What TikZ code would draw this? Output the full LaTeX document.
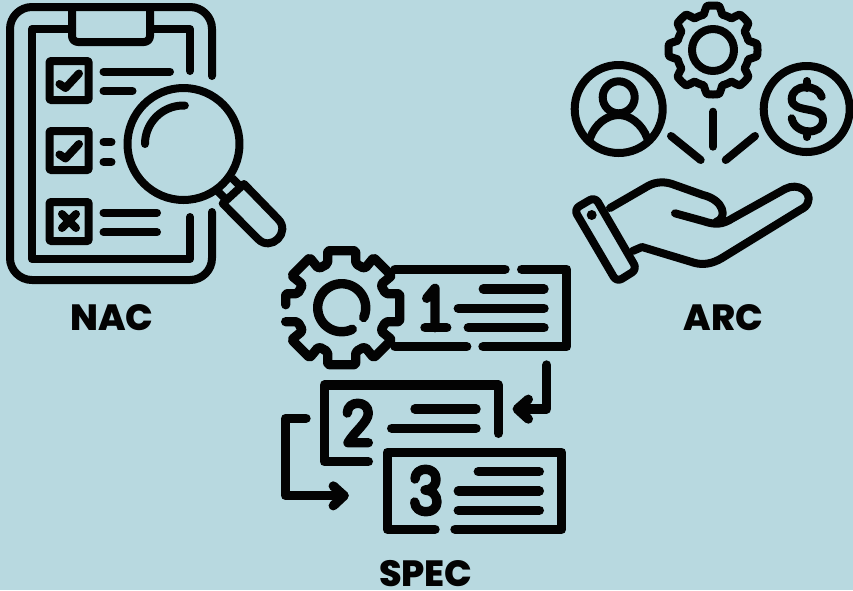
\documentclass[tikz,border=0pt]{standalone}
\usepackage{fontspec}
\setmainfont{Poppins}
\newfontfamily\labelfont{Poppins ExtraBold}
\definecolor{bgblue}{RGB}{184,217,224}
\definecolor{ink}{RGB}{3,3,3}
\tikzset{
  icon/.style={draw=ink,line width=8pt,line cap=round,line join=round},
  thick icon/.style={icon,line width=9.4pt},
  label text/.style={text=ink,font=\labelfont\fontsize{36.5}{36.5}\selectfont,inner sep=0pt,anchor=center}
}
\begin{document}
\begin{tikzpicture}[x=1pt,y=-1pt]
\useasboundingbox (0,0) rectangle (853,590);
\fill[bgblue] (0,0) rectangle (853,590);
% ---- clipboard ----
\draw[icon,rounded corners=22pt] (212,76) -- (212,7) -- (10,7) -- (10,280) -- (212,280) -- (212,212);
\draw[icon,rounded corners=6pt] (72,7) -- (72,42) -- (150,42) -- (150,7);
\draw[icon] (72,29) -- (32,29) -- (32,259) -- (190,259) -- (190,217);
\draw[icon] (150,29) -- (190,29) -- (190,71);
\draw[icon,rounded corners=1pt] (49.5,61) rectangle (88.7,100);
\draw[icon,rounded corners=1pt] (49.5,131) rectangle (88.7,170);
\draw[icon,rounded corners=1pt] (49.5,202) rectangle (88.7,241);
\draw[icon] (59.5,84) -- (65.5,88) -- (79,73.5);
\draw[icon] (59.5,154.5) -- (65.5,158.5) -- (79,144);
\draw[icon] (62,214) -- (76,228);
\draw[icon] (76,214) -- (62,228);
\draw[icon] (103.5,71.7) -- (170,71.7);
\draw[icon] (103.5,91) -- (132.5,91);
\draw[icon] (103.5,142) -- (111.5,142);
\draw[icon] (103.5,162) -- (111.5,162);
\draw[icon] (103.5,212.7) -- (157,212.7);
\draw[icon] (103.5,232.3) -- (157,232.3);
% magnifier
\draw[icon] (183.5,144) circle[radius=56];
\draw[icon] plot[domain=88:180,samples=40] ({183.5+38.5*cos(\x)},{144-38.5*sin(\x)});
\draw[icon,line cap=butt] (217.5,191) -- (225,198.5);
\draw[icon,line cap=butt] (232,178) -- (239.5,185.5);
\draw[icon] (222.7,203.5) -- (258,239) .. controls (271.2,252.2) and (291.2,232.2) .. (278,219) -- (244,184) -- cycle;
% ---- gear / list ----
\begin{scope}[shift={(341.7,307.7)}]
\draw[thick icon,rounded corners=2pt] (-56,-3) -- (-56,-14) -- (-44,-14) -- (-39,-23) -- (-50,-32) -- (-32,-50) -- (-23,-39) -- (-14,-44) -- (-14,-57) -- (14,-57) -- (14,-44) -- (23,-39) -- (32,-50) -- (50,-32) -- (39,-23) -- (44,-14) -- (58,-14) -- (58,14) -- (44,14) -- (39,23) -- (50,32) -- (32,50) -- (23,39) -- (14,44) -- (14,57) -- (-14,57) -- (-14,44) -- (-23,39) -- (-32,50) -- (-50,32) -- (-39,23) -- (-44,14) -- (-56,14);
\draw[thick icon] plot[domain=-24:296,samples=70] ({24*cos(\x)},{-24*sin(\x)});
\end{scope}
\draw[thick icon] (395,269.3) -- (505,269.3);
\draw[thick icon] (521.7,269.3) -- (566.7,269.3) -- (566.7,346.7) -- (483,346.7);
\draw[thick icon] (395,346.7) -- (466.7,346.7);
\draw[thick icon] (426.7,298.3) -- (435,288.3) -- (435,327.7);
\draw[thick icon] (425,327.7) -- (446.7,327.7);
\draw[thick icon] (483.3,289) -- (544,289);
\draw[thick icon] (458.3,308.3) -- (544,308.3);
\draw[thick icon] (468.3,327.7) -- (544,327.7);
\draw[thick icon] (546.7,365) -- (546.7,409) -- (518.3,409);
\draw[thick icon] (528.3,399.3) -- (517.3,409) -- (528.3,419);
\draw[thick icon] (498.3,433.3) -- (498.3,385) -- (324.3,385) -- (324.3,461.7) -- (368.3,461.7);
\draw[thick icon] (347.3,413) .. controls (347.3,400) and (368.3,400) .. (368.3,413) .. controls (368.3,422) and (354,432) .. (348,442.7) -- (368.3,442.7);
\draw[thick icon] (415,409) -- (476,409);
\draw[thick icon] (391.7,428.3) -- (476,428.3);
\draw[thick icon] (306,418.3) -- (285.7,418.3) -- (285.7,495.7) -- (344,495.7);
\draw[thick icon] (333.3,486) -- (344,495.7) -- (333.3,505.7);
\draw[thick icon] (435,529.3) -- (387.3,529.3) -- (387.3,452.3) -- (561.7,452.3) -- (561.7,529.3) -- (455,529.3);
\draw[thick icon] (415,479) .. controls (415,466) and (436,466) .. (436,479) .. controls (436,487) and (430,490) .. (425,490) .. controls (432,490) and (437,495) .. (437,502) .. controls (437,515) and (415,515) .. (414.7,502);
\draw[thick icon] (478.3,471.7) -- (539.3,471.7);
\draw[thick icon] (458.3,491) -- (539.3,491);
\draw[thick icon] (458.3,510.3) -- (539.3,510.3);
% ---- ARC icon ----
\draw[icon] plot[domain=0:360,samples=289] ({713+(40.5+4*max(min(2.2*cos(8*\x+0),1),-1))*sin(\x)},{50-(40.5+4*max(min(2.2*cos(8*\x),1),-1))*cos(\x)}) -- cycle;
\draw[icon] (713,50) circle[radius=21];
\draw[icon] (618.7,109) circle[radius=44];
\draw[icon] (618.7,97.3) circle[radius=16];
\draw[icon] (590,138.3) .. controls (595,124) and (607,115) .. (618.7,115) .. controls (630,115) and (642,124) .. (647.3,138.3);
\draw[icon] (806.7,109) circle[radius=43];
\draw[icon] (821.7,96.7) .. controls (818,84) and (792,83) .. (791.7,99) .. controls (791.7,114) and (823,105) .. (823,120) .. controls (823,136) and (795,135) .. (791.7,118.3);
\draw[icon] (806.7,81) -- (806.7,88);
\draw[icon] (806.7,131) -- (806.7,137);
\draw[icon] (713,111.7) -- (713,146.7);
\draw[icon] (671,136) -- (700.7,160);
\draw[icon] (755,136) -- (725.7,160);
\draw[icon,rounded corners=6pt] (574,209.3) -- (595,197) -- (637,269.3) -- (616.7,282) -- cycle;
\fill[ink] (591.7,215) circle[radius=5];
\draw[icon] (610,208) -- (648,186) .. controls (657,181) and (666,182) .. (672,184) -- (703,195) .. controls (724,200) and (728,218) .. (716,222);
\draw[icon] (675,213.3) -- (703,221) .. controls (715,225) and (722,225) .. (733,218) -- (785,189) .. controls (798,182) and (812,192) .. (808,202) .. controls (807,206) and (804,208) .. (800,210) -- (722,258) .. controls (712,264) and (703,265) .. (695,263) -- (642,247) -- (632.7,251);
% ---- labels ----
\node[label text] (nac) at (111.7,318) {NAC};
\node[label text] (arc) at (723.3,318) {ARC};
\node[label text] (spec) at (425.8,574) {SPEC};
\end{tikzpicture}
\end{document}
